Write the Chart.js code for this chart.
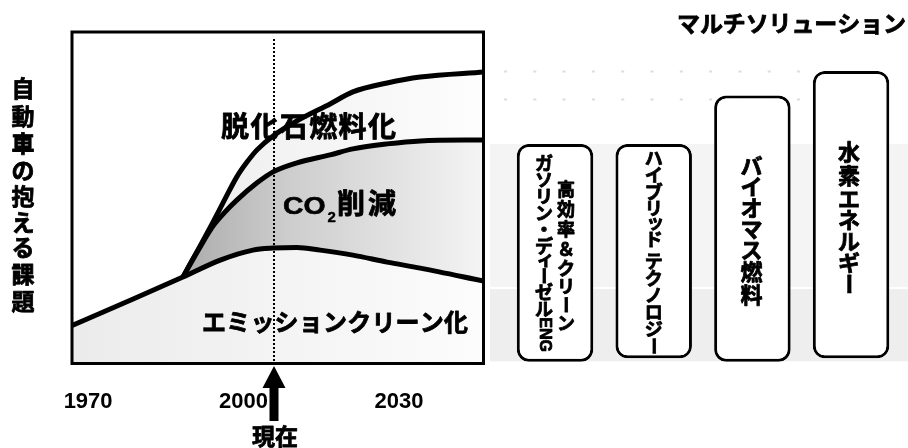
<!DOCTYPE html>
<html>
<head>
<meta charset="utf-8">
<script src="https://cdn.jsdelivr.net/npm/chart.js@4"></script>
<style>
  html, body { margin: 0; padding: 0; background: #fff; }
  #wrap { position: relative; width: 908px; height: 448px; overflow: hidden; }
  #trend { position: absolute; left: 0; top: 0; }
  #solutions { position: absolute; left: 490px; top: 0; }
</style>
</head>
<body>
<div id="wrap">
  <canvas id="trend" width="490" height="448"></canvas>
  <canvas id="solutions" width="418" height="448"></canvas>
</div>
<script>
// ---- data ----
const tickYears = [1970, 2000, 2030];
const presentYear = 2005.9;

const emissionYears = [1966.7, 1978.7, 1988.3, 1995.5, 2001.8, 2005.7, 2010.3, 2014.8, 2021.1, 2027.7, 2034.1, 2046.4];
const emissionLevel = [11.4, 19.5, 26.1, 31.2, 34.2, 34.8, 35.0, 34.2, 32.7, 30.6, 28.8, 24.9];

const co2Years = [1988.3, 1991.6, 1994.1, 1996.4, 1998.7, 2002.6, 2005.7, 2010.3, 2016.7, 2021.1, 2027.7, 2034.1, 2046.4];
const co2Level = [26.1, 35.1, 41.4, 45.6, 49.2, 54.4, 57.7, 60.4, 62.8, 64.6, 66.1, 67.0, 67.3];

const fossilYears = [1988.3, 1991.6, 1994.1, 1996.4, 1998.7, 2000.7, 2002.6, 2005.7, 2010.3, 2016.7, 2021.1, 2027.7, 2034.1, 2046.4];
const fossilLevel = [26.1, 35.4, 42.6, 49.5, 56.2, 60.7, 64.3, 68.5, 73.0, 78.1, 81.7, 84.4, 86.2, 87.7];

const solutionNames = ['高効率＆クリーン ガソリン・ディーゼルENG', 'ハイブリッド テクノロジー', 'バイオマス燃料', '水素エネルギー'];
const solutionColumns = [['高効率＆クリーン', 'ガソリン・ディーゼルENG'], ['ハイブリッド テクノロジー'], ['バイオマス燃料'], ['水素エネルギー']];
const solutionLow = [0.7, 1.7, 0.7, 1.7];
const solutionHigh = [66.1, 66.1, 80.6, 88.0];

// ---- text helpers ----
const CJK = '"Noto Sans CJK JP", "Noto Sans CJK SC", sans-serif';
const LATIN = '"Liberation Sans", Arial, sans-serif';

// bold text with a thin outline for a heavier stroke
function heavyText(ctx, s, x, y, w) {
  ctx.fillText(s, x, y);
  ctx.lineWidth = w == null ? 0.8 : w;
  ctx.lineJoin = 'round';
  ctx.strokeStyle = ctx.fillStyle;
  ctx.strokeText(s, x, y);
}

function drawSpaced(ctx, text, x0, x1, yc, font) {
  ctx.save();
  ctx.font = font;
  ctx.fillStyle = '#000';
  ctx.textBaseline = 'middle';
  ctx.textAlign = 'left';
  const chars = [...text];
  const ws = chars.map(c => ctx.measureText(c).width);
  const tot = ws.reduce((a, b) => a + b, 0);
  const gap = chars.length > 1 ? (x1 - x0 - tot) / (chars.length - 1) : 0;
  let x = x0;
  chars.forEach((c, i) => { heavyText(ctx, c, x, yc); x += ws[i] + gap; });
  ctx.restore();
}

const SMALL_KANA = /[ァィゥェォッャュョヮ]/;
const KANA = /[\u3040-\u30ff]/;
function verticalTokens(text) {
  const toks = [];
  let i = 0;
  while (i < text.length) {
    const c = text[i];
    if (/[A-Za-z0-9]/.test(c)) {
      let j = i;
      while (j < text.length && /[A-Za-z0-9]/.test(text[j])) j++;
      toks.push({ s: text.slice(i, j), rot: true, latin: true });
      i = j;
    } else {
      toks.push({ s: c, rot: c === 'ー', small: SMALL_KANA.test(c), kana: KANA.test(c), space: c === ' ' });
      i++;
    }
  }
  return toks;
}

// upright Japanese column, spread evenly between y0 and y1
function drawVertical(ctx, text, cx, y0, y1, size) {
  const cjk = `bold ${size}px ${CJK}`;
  const lat = `bold ${Math.round(size * 0.9)}px ${LATIN}`;
  const toks = verticalTokens(text);
  toks.forEach(t => {
    if (t.latin) { ctx.font = lat; t.h = ctx.measureText(t.s).width; }
    else if (t.space) t.h = size * 0.3;
    else if (t.small) t.h = size * 0.7;
    else if (t.kana) t.h = size * 0.9;
    else t.h = size;
  });
  const total = toks.reduce((a, t) => a + t.h, 0);
  const gap = toks.length > 1 ? (y1 - y0 - total) / (toks.length - 1) : 0;
  ctx.save();
  ctx.fillStyle = '#000';
  ctx.textAlign = 'center';
  ctx.textBaseline = 'middle';
  let y = y0;
  toks.forEach(t => {
    const yc = y + t.h / 2;
    if (!t.space) {
      ctx.font = t.latin ? lat : cjk;
      if (t.rot) {
        ctx.save();
        ctx.translate(cx, yc);
        ctx.rotate(Math.PI / 2);
        heavyText(ctx, t.s, 0, 0);
        ctx.restore();
      } else if (t.small) {
        heavyText(ctx, t.s, cx + size * 0.08, yc - size * 0.1);
      } else {
        heavyText(ctx, t.s, cx, yc);
      }
    }
    y += t.h + gap;
  });
  ctx.restore();
}

function hGradient(chart, x0, x1, stops, fallback) {
  const area = chart.chartArea;
  if (!area) return fallback;
  const g = chart.ctx.createLinearGradient(x0 == null ? area.left : x0, 0, x1 == null ? area.right : x1, 0);
  stops.forEach(([o, c]) => g.addColorStop(o, c));
  return g;
}

// ---- left panel: issue trend ----
const trendDecor = {
  id: 'trendDecor',
  afterDatasetsDraw(chart) {
    const { ctx, chartArea: a, scales: { x } } = chart;
    const px = Math.round(x.getPixelForValue(presentYear));

    // present-day marker
    ctx.save();
    ctx.strokeStyle = '#000';
    ctx.lineWidth = 2;
    ctx.setLineDash([2, 2]);
    ctx.beginPath();
    ctx.moveTo(px, a.top + 8);
    ctx.lineTo(px, a.bottom);
    ctx.stroke();
    ctx.restore();

    // frame
    ctx.save();
    ctx.strokeStyle = '#000';
    ctx.lineWidth = 3;
    ctx.strokeRect(a.left + 1, a.top + 1, a.right - a.left - 1.5, a.bottom - a.top - 1.5);
    ctx.restore();

    // area captions
    drawSpaced(ctx, '脱化石燃料化', 221, 396, 126, `bold 28px ${CJK}`);
    drawSpaced(ctx, 'エミッションクリーン化', 202, 468, 322, `bold 24px ${CJK}`);

    ctx.save();
    ctx.fillStyle = '#000';
    ctx.textBaseline = 'alphabetic';
    ctx.textAlign = 'left';
    ctx.translate(283, 214);
    ctx.scale(1.18, 1);
    ctx.font = `bold 24px ${LATIN}`;
    heavyText(ctx, 'CO', 0, 0, 0.6);
    ctx.restore();
    ctx.save();
    ctx.fillStyle = '#000';
    ctx.textBaseline = 'alphabetic';
    ctx.textAlign = 'left';
    ctx.font = `bold 15px ${LATIN}`;
    heavyText(ctx, '2', 327.5, 222, 0.4);
    ctx.restore();
    drawSpaced(ctx, '削減', 337, 396, 203, `bold 28px ${CJK}`);
  },
  afterDraw(chart) {
    const { ctx, scales: { x } } = chart;
    const px = Math.round(x.getPixelForValue(presentYear));

    // arrow under the present-day marker
    ctx.save();
    ctx.fillStyle = '#000';
    ctx.beginPath();
    ctx.moveTo(px, 366);
    ctx.lineTo(px + 11.5, 388);
    ctx.lineTo(px + 4.5, 388);
    ctx.lineTo(px + 4.5, 421);
    ctx.lineTo(px - 4.5, 421);
    ctx.lineTo(px - 4.5, 388);
    ctx.lineTo(px - 11.5, 388);
    ctx.closePath();
    ctx.fill();
    ctx.font = `bold 23px ${CJK}`;
    ctx.textAlign = 'center';
    ctx.textBaseline = 'middle';
    heavyText(ctx, '現在', px + 1, 436);
    ctx.restore();

    // axis title, written top to bottom
    drawVertical(ctx, '自動車の抱える課題', 23, 77, 313, 23);
  }
};

const trendChart = new Chart(document.getElementById('trend'), {
  type: 'line',
  data: {
    datasets: [
      {
        label: 'エミッションクリーン化',
        data: emissionYears.map((yr, i) => ({ x: yr, y: emissionLevel[i] })),
        fill: 'origin',
        backgroundColor: c => hGradient(c.chart, null, null, [[0, '#ebebeb'], [1, '#fcfcfc']], '#f2f2f2')
      },
      {
        label: 'CO2削減',
        data: co2Years.map((yr, i) => ({ x: yr, y: co2Level[i] })),
        fill: '-1',
        backgroundColor: c => {
          const sx = c.chart.scales && c.chart.scales.x;
          const x0 = sx ? sx.getPixelForValue(co2Years[0]) : null;
          return hGradient(c.chart, x0, null, [[0, '#acacac'], [0.35, '#cdcdcd'], [1, '#f4f4f4']], '#cccccc');
        }
      },
      {
        label: '脱化石燃料化',
        data: fossilYears.map((yr, i) => ({ x: yr, y: fossilLevel[i] })),
        fill: '-1',
        backgroundColor: c => hGradient(c.chart, null, null, [[0.3, '#eeeeee'], [1, '#fdfdfd']], '#f6f6f6')
      }
    ]
  },
  options: {
    responsive: false,
    animation: false,
    devicePixelRatio: 1,
    layout: { padding: { left: 71, top: 31, right: 6, bottom: 0 } },
    plugins: { legend: { display: false }, tooltip: { enabled: false } },
    elements: {
      point: { radius: 0 },
      line: { borderColor: '#000', borderWidth: 5, cubicInterpolationMode: 'monotone', borderJoinStyle: 'round' }
    },
    scales: {
      x: {
        type: 'linear',
        min: 1966.7,
        max: 2046.4,
        grid: { display: false, drawTicks: false },
        border: { display: false },
        afterBuildTicks: s => { s.ticks = tickYears.map(v => ({ value: v })); },
        afterFit: s => { s.height = 84; },
        ticks: {
          padding: 25,
          color: '#000',
          autoSkip: false,
          maxRotation: 0,
          font: { family: LATIN, size: 22, weight: 'bold' },
          callback: v => String(v)
        }
      },
      y: { display: false, min: 0, max: 100 }
    }
  },
  plugins: [trendDecor]
});

// ---- right panel: solutions ----
const columnOffsets = [[11, -11], [0], [-1], [-2]];
const columnSpans = [[[180, 331], [155, 352]], [[150, 354]], [[156, 306]], [[141, 294]]];
const columnSizes = [18, 18, 22, 22];

const solutionDecor = {
  id: 'solutionDecor',
  beforeDatasetsDraw(chart) {
    const { ctx, scales: { y } } = chart;
    const w = chart.width;
    ctx.save();
    ctx.fillStyle = '#f4f4f4';
    ctx.fillRect(0, y.getPixelForValue(66.1), w, y.getPixelForValue(23.1) - y.getPixelForValue(66.1));
    ctx.fillStyle = '#eeeeee';
    ctx.fillRect(0, y.getPixelForValue(22.5), w, y.getPixelForValue(0.8) - y.getPixelForValue(22.5));

    ctx.strokeStyle = '#dddddd';
    ctx.lineWidth = 2;
    ctx.setLineDash([3, 26.3]);
    [88.0, 79.6].forEach(v => {
      const py = Math.round(y.getPixelForValue(v)) + 0.5;
      ctx.beginPath();
      ctx.moveTo(14, py);
      ctx.lineTo(310, py);
      ctx.stroke();
    });
    ctx.restore();
  },
  afterDatasetsDraw(chart) {
    const { ctx } = chart;
    const bars = chart.getDatasetMeta(0).data;
    bars.forEach((bar, i) => {
      solutionColumns[i].forEach((col, k) => {
        const [y0, y1] = columnSpans[i][k];
        drawVertical(ctx, col, bar.x + columnOffsets[i][k], y0, y1, columnSizes[i]);
      });
    });
    drawSpaced(ctx, 'マルチソリューション', 187, 416, 23, `bold 23px ${CJK}`);
  }
};

const solutionChart = new Chart(document.getElementById('solutions'), {
  type: 'bar',
  data: {
    labels: solutionNames,
    datasets: [{
      data: solutionLow.map((lo, i) => [lo, solutionHigh[i]]),
      backgroundColor: '#ffffff',
      borderColor: '#000000',
      borderWidth: 3,
      borderRadius: 12,
      borderSkipped: false,
      barPercentage: 0.775,
      categoryPercentage: 1
    }]
  },
  options: {
    responsive: false,
    animation: false,
    devicePixelRatio: 1,
    layout: { padding: { left: 15.7, right: 7.6, top: 31, bottom: 84 } },
    plugins: { legend: { display: false }, tooltip: { enabled: false } },
    scales: {
      x: { display: false },
      y: { display: false, min: 0, max: 100 }
    }
  },
  plugins: [solutionDecor]
});
</script>
</body>
</html>
